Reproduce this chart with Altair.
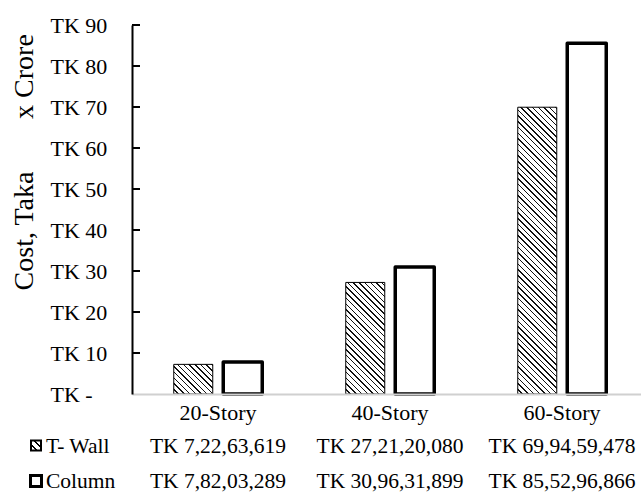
import altair as alt
import pandas as pd

# ---- data -------------------------------------------------------------
stories = ["20-Story", "40-Story", "60-Story"]
series_names = ["T- Wall", "Column"]
t_wall_taka = [72263619, 272120080, 699459478]
column_taka = [78203289, 309631899, 855296866]
y_ticks = [0, 10, 20, 30, 40, 50, 60, 70, 80, 90]

# ---- layout -------------------------------------------------------------
FONT = "Liberation Serif"
PAD_L, PAD_T = 132, 25
PLOT_W, PLOT_H = 641 - PAD_L, 369
Y_MAX = 90
STEP = 172          # width of one story group
BAR_W = 39          # bar width
SUB_STEP = 49.5     # distance between the two bars of a group

sub_pi = 1 - BAR_W / SUB_STEP
sub_po = (STEP / SUB_STEP - 2 + sub_pi) / 2


def indian(n):
    """Group digits the South-Asian way: 69,94,59,478."""
    s = str(n)
    head, tail = s[:-3], s[-3:]
    groups = []
    while len(head) > 2:
        groups.insert(0, head[-2:])
        head = head[:-2]
    if head:
        groups.insert(0, head)
    return ",".join(groups + [tail])


rows = []
for name, vals in zip(series_names, [t_wall_taka, column_taka]):
    for story, v in zip(stories, vals):
        rows.append({"story": story, "series": name, "crore": v / 1e7,
                     "label": "TK " + indian(v)})
df = pd.DataFrame(rows)


def hatch(w, h, spacing=5.7, line=1.5, ink="#111111"):
    """Linear gradient that draws '\\' hatching at 45 degrees on a w x h box."""
    span = w + h
    d = span / (w * w + h * h)
    p = spacing / span
    f = line / span
    stops = []
    pos = 0.0
    while pos < 1:
        a = round(min(pos, 1), 5)
        b = round(min(pos + p - f, 1), 5)
        c = round(min(pos + p, 1), 5)
        stops += [{"offset": a, "color": "white"}, {"offset": b, "color": "white"},
                  {"offset": b, "color": ink}, {"offset": c, "color": ink}]
        pos += p
    return {"gradient": "linear", "x1": 0, "y1": 1,
            "x2": round(w * d, 5), "y2": round(1 - h * d, 5), "stops": stops}


# ---- encodings shared by the layers --------------------------------------
x_enc = alt.X(
    "story:N", sort=stories,
    scale=alt.Scale(domain=stories, range=[0, STEP * 3], paddingInner=0, paddingOuter=0),
    axis=alt.Axis(title=None, ticks=False, labelAngle=0, labelFont=FONT, labelFontSize=22,
                  labelColor="black", labelBaseline="alphabetic", labelPadding=25.5,
                  domainColor="#d0d0d0", domainWidth=2, zindex=1),
)
xoff_enc = alt.XOffset(
    "series:N", sort=series_names,
    scale=alt.Scale(domain=series_names, paddingInner=sub_pi, paddingOuter=sub_po),
)
y_enc = alt.Y(
    "crore:Q",
    scale=alt.Scale(domain=[0, Y_MAX], nice=False, zero=True),
    axis=alt.Axis(title=None, values=y_ticks, ticks=False, grid=False,
                  labelExpr="datum.value === 0 ? 'TK -' : 'TK ' + datum.value",
                  labelAlign="left", labelBaseline="middle", labelPadding=PAD_L - 50,
                  labelFont=FONT, labelFontSize=22, labelColor="black",
                  domainColor="black", domainWidth=2, zindex=1),
)

# ---- bars ---------------------------------------------------------------
wall_fill = [
    {"test": f"datum.story === '{s}'", "value": hatch(BAR_W, v / 1e7 / Y_MAX * PLOT_H)}
    for s, v in zip(stories, t_wall_taka)
]

wall_bars = (
    alt.Chart(df).transform_filter(alt.datum.series == "T- Wall")
    .mark_bar(stroke="black", strokeWidth=1)
    .encode(x=x_enc, xOffset=xoff_enc, y=y_enc,
            fill=alt.FillValue(value="white", condition=wall_fill))
)
column_bars = (
    alt.Chart(df).transform_filter(alt.datum.series == "Column")
    .mark_bar(fill="white", stroke="black", strokeWidth=3.5, strokeJoin="round")
    .encode(x=x_enc, xOffset=xoff_enc, y=y_enc)
)

# inside tick marks on the value axis
ticks = (
    alt.Chart(pd.DataFrame({"crore": y_ticks[1:]}))
    .mark_rule(color="black", strokeWidth=2)
    .encode(y=alt.Y("crore:Q"), x=alt.value(0), x2=alt.value(8))
)

# ---- data table under the axis -------------------------------------------
ROW_Y = {"T- Wall": 428, "Column": 463}
KEY_Y = {"T- Wall": 420.5, "Column": 456}


def value_row(name):
    return (
        alt.Chart(df).transform_filter(alt.datum.series == name)
        .mark_text(font=FONT, fontSize=21.5, color="black", baseline="alphabetic", align="center")
        .encode(x=alt.X("story:N", sort=stories), y=alt.value(ROW_Y[name]), text="label:N")
    )


def row_header(name):
    return (
        alt.Chart(pd.DataFrame({"series": [name]}))
        .mark_text(font=FONT, fontSize=21.5, color="black", baseline="alphabetic", align="left")
        .encode(x=alt.value(46 - PAD_L), y=alt.value(ROW_Y[name]), text="series:N")
    )


wall_key = (
    alt.Chart(pd.DataFrame({"series": ["T- Wall"]}))
    .mark_square(size=100, opacity=1, fill=hatch(10, 10, spacing=7, line=2, ink="black"),
                 stroke="black", strokeWidth=2)
    .encode(x=alt.value(36 - PAD_L), y=alt.value(KEY_Y["T- Wall"]))
)
column_key = (
    alt.Chart(pd.DataFrame({"series": ["Column"]}))
    .mark_square(size=121, opacity=1, fill="white", stroke="black", strokeWidth=3)
    .encode(x=alt.value(36 - PAD_L), y=alt.value(KEY_Y["Column"]))
)

# ---- value-axis title ---------------------------------------------------
title_cost = (
    alt.Chart(pd.DataFrame({"t": ["Cost, Taka"]}))
    .mark_text(font=FONT, fontSize=28, color="black", angle=270, align="center",
               baseline="alphabetic")
    .encode(x=alt.value(33 - PAD_L), y=alt.value(206), text="t:N")
)
title_unit = (
    alt.Chart(pd.DataFrame({"t": ["x Crore"]}))
    .mark_text(font=FONT, fontSize=28, color="black", angle=270, align="center",
               baseline="alphabetic")
    .encode(x=alt.value(33 - PAD_L), y=alt.value(51.5), text="t:N")
)

chart = (
    alt.layer(wall_bars, column_bars, ticks,
              value_row("T- Wall"), value_row("Column"),
              row_header("T- Wall"), row_header("Column"),
              wall_key, column_key, title_cost, title_unit)
    .properties(width=PLOT_W, height=PLOT_H,
                padding={"left": PAD_L, "top": PAD_T, "right": 0, "bottom": 492 - PAD_T - PLOT_H},
                autosize=alt.AutoSizeParams(type="none"), background="white")
    .configure_view(stroke=None)
)

chart.save("out.html", embed_options={"renderer": "svg", "actions": False})
